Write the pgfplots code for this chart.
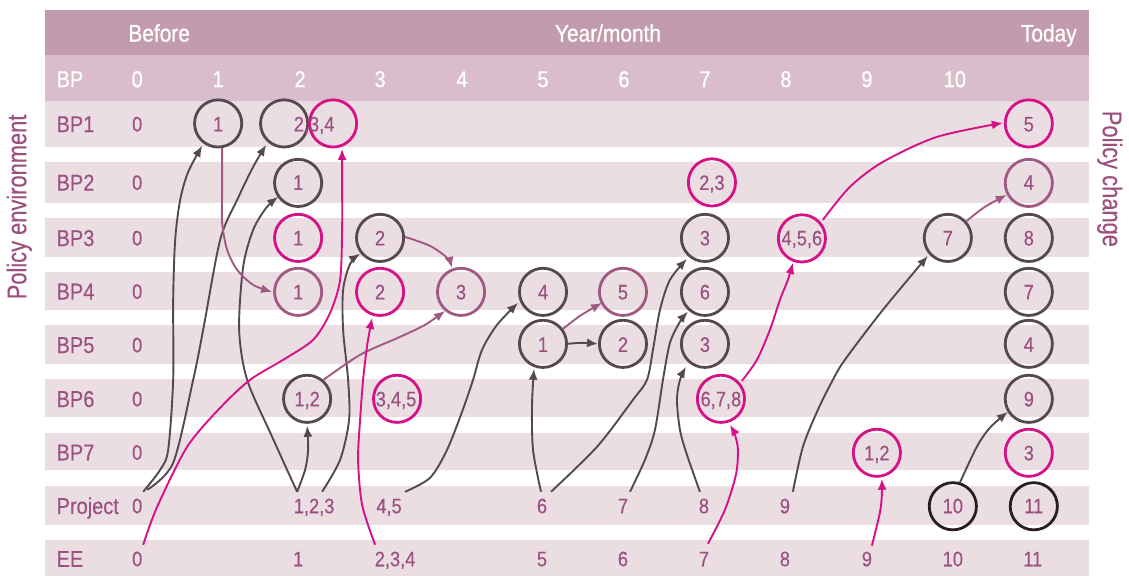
\documentclass[border=0pt]{standalone}
\usepackage{fontspec}
\setmainfont{Liberation Sans}[FakeStretch=0.87, FakeBold=0.25]
\newfontfamily\hdrfont{Liberation Sans}[FakeStretch=0.87, FakeBold=0.7]
\newfontfamily\sidefont{Liberation Sans}[FakeStretch=0.81, FakeBold=0.35]
\usepackage{pgfplots}
\pgfplotsset{compat=1.18}
\usetikzlibrary{arrows.meta}
\definecolor{hdrA}{RGB}{194,155,172}
\definecolor{hdrB}{RGB}{217,189,202}
\definecolor{band}{RGB}{234,222,227}
\definecolor{txt}{RGB}{155,80,128}
\definecolor{dk}{RGB}{85,72,80}
\definecolor{mg}{RGB}{214,17,136}
\definecolor{mv}{RGB}{160,90,130}
\definecolor{bk}{RGB}{38,30,34}
\pgfplotsset{
  bandrow/.style={fill=#1, draw=none, mark=none, forget plot},
  circ/.style={only marks, mark=o, mark size=11.8pt, mark options={draw=#1, line width=1.4pt}},
  arr/.style={#1, line width=0.95pt, smooth, mark=none, -{Latex[length=5.5pt,width=4.5pt]}},
  lab/.style n args={4}{draw=none, mark=none, nodes near coords, point meta=explicit symbolic,
     every node near coord/.append style={inner sep=0pt, anchor=#1, yshift=#2, text=#3, font=#4}},
}
\begin{document}
\begin{tikzpicture}
\begin{axis}[width=564.5pt, height=288pt, scale only axis,
  xmin=0, xmax=1129, ymin=0, ymax=576, y dir=reverse,
  hide axis, clip=false]
\addplot[draw=none, mark=none] coordinates {(0,0) (1129,576)};
% table bands
\addplot[bandrow=hdrA] coordinates {(45,10) (1089,10) (1089,55) (45,55)};
\addplot[bandrow=hdrB] coordinates {(45,55) (1089,55) (1089,101) (45,101)};
\addplot[bandrow=band] coordinates {(45,101) (1089,101) (1089,146.7) (45,146.7)};
\addplot[bandrow=band] coordinates {(45,162) (1089,162) (1089,203.3) (45,203.3)};
\addplot[bandrow=band] coordinates {(45,218.3) (1089,218.3) (1089,256.7) (45,256.7)};
\addplot[bandrow=band] coordinates {(45,271.7) (1089,271.7) (1089,310) (45,310)};
\addplot[bandrow=band] coordinates {(45,325) (1089,325) (1089,364) (45,364)};
\addplot[bandrow=band] coordinates {(45,379) (1089,379) (1089,417.3) (45,417.3)};
\addplot[bandrow=band] coordinates {(45,432.7) (1089,432.7) (1089,470.7) (45,470.7)};
\addplot[bandrow=band] coordinates {(45,486.7) (1089,486.7) (1089,525) (45,525)};
\addplot[bandrow=band] coordinates {(45,540) (1089,540) (1089,576) (45,576)};
% dark arrows
\addplot[arr=dk] coordinates {(143,492) (160,470) (168,450) (173,380) (173,300) (175,240) (180,200) (188,172) (202,146)};
\addplot[arr=dk] coordinates {(147,490) (173,463) (193,380) (203,330) (220,240) (237,200) (253,167) (266,145)};
\addplot[arr=dk] coordinates {(297,492) (272,437) (247,380) (239,330) (243,267) (253,230) (266,208) (278,197)};
\addplot[arr=dk] coordinates {(297,492) (305,470) (308,450) (307,426)};
\addplot[arr=dk] coordinates {(322,492) (340,460) (349,420) (348,380) (343,330) (343,290) (350,264) (360,254)};
\addplot[arr=dk] coordinates {(405,492) (430,478) (447,450) (462,412) (473,380) (482,350) (497,325) (518,303)};
\addplot[arr=dk] coordinates {(541,492) (533,450) (532,405) (534,369)};
\addplot[arr=dk] coordinates {(551,492) (597,447) (633,400) (647,380) (653,350) (660,310) (670,280) (687,259)};
\addplot[arr=dk] coordinates {(630,492) (645,460) (655,430) (663,380) (670,343) (680,322) (688,312)};
\addplot[arr=dk] coordinates {(700,492) (687,455) (680,430) (677,400) (680,380) (686,367)};
\addplot[arr=dk] coordinates {(793,492) (803,447) (818,410) (833,380) (845,360) (883,310) (928,256)};
\addplot[arr=dk] coordinates {(960,483) (977,447) (990,428) (1008,412)};
\addplot[arr=dk] coordinates {(567,344) (582,343) (598,344)};
% mauve arrows
\addplot[arr=mv] coordinates {(222,148) (222,190) (222,223) (227,250) (237,270) (253,285) (272,292)};
\addplot[arr=mv] coordinates {(322,381) (360,355) (400,337) (425,325) (445,311)};
\addplot[arr=mv] coordinates {(405,237) (430,246) (447,258) (452,268)};
\addplot[arr=mv] coordinates {(563,329) (580,316) (602,303)};
\addplot[arr=mv] coordinates {(967,221) (985,207) (1007,195)};
% magenta arrows
\addplot[arr=mg] coordinates {(143,545) (157,507) (187,447) (220,408) (250,380) (283,360) (313,340) (330,313) (340,280) (342,230) (342,180) (342,149)};
\addplot[arr=mg] coordinates {(375,545) (362,505) (358,460) (360,420) (363,380) (367,346) (372,318)};
\addplot[arr=mg] coordinates {(708,544) (725,510) (736,475) (738,450) (735,435) (730,425)};
\addplot[arr=mg] coordinates {(742,381) (757,360) (770,330) (780,300) (788,280) (793,263)};
\addplot[arr=mg] coordinates {(823,220) (850,187) (883,162) (937,137) (1003,123)};
\addplot[arr=mg] coordinates {(872,546) (880,513) (882,495) (882,479)};
% circles
\addplot[circ=dk] coordinates {(218,123.5) (284,123.5) (298,183) (380,238) (705,238) (948,238) (1029,238)
  (543,292) (705,292) (1029,292) (543,344) (623,344) (705,344) (1029,344) (307,399) (1029,399)};
\addplot[circ=mg] coordinates {(333,123.5) (1029,123.5) (712,182.5) (298,238) (802,238.5) (380,292)
  (397,399) (721,399) (877,453) (1029,453)};
\addplot[circ=mv] coordinates {(1029,183) (298,292) (461,292) (623,292)};
\addplot[circ=bk] coordinates {(953,506.5) (1034,506.5)};
% header texts
\addplot[lab={base}{-4.3pt}{white}{\hdrfont\fontsize{12}{14}\selectfont}] table[meta=t] {
x y t
159 33 Before
608 33 Year/month
1049 33 Today
};
\addplot[lab={base}{-4.1pt}{white}{\hdrfont\fontsize{11.5}{13}\selectfont}] table[meta=t] {
x y t
137 79 0
218 79 1
300 79 2
380 79 3
462 79 4
543 79 5
624 79 6
705 79 7
786 79 8
867 79 9
955 79 10
};
\addplot[lab={base west}{-4.1pt}{white}{\hdrfont\fontsize{11.5}{13}\selectfont}] table[meta=t] {
x y t
56 79 BP
};
% row labels
\addplot[lab={base west}{-4.1pt}{txt}{\fontsize{11.5}{13}\selectfont}] table[meta=t] {
x y t
56 124 BP1
56 182.5 BP2
56 238 BP3
56 291.5 BP4
56 345 BP5
56 399 BP6
56 452.5 BP7
56 506 Project
56 559 EE
};
% numbers
\addplot[lab={base}{-3.76pt}{txt}{\fontsize{10.5}{12}\selectfont}] table[meta=t] {
x y t
137 124 0
218 124 1
314 124 2,3,4
1029 124 5
137 182.5 0
298 182.5 1
712 182.5 2,3
1029 182.5 4
137 238 0
298 238 1
380 238 2
705 238 3
802 238 4,5,6
948 238 7
1029 238 8
137 291.5 0
298 292 1
380 292 2
461 292 3
543 292 4
623 292 5
705 292 6
1029 292 7
137 345 0
543 344.5 1
623 344.5 2
705 344.5 3
1029 344.5 4
137 399 0
307 399 1,2
396 399 3,4,5
721 399 6,7,8
1029 399 9
137 452.5 0
877 453 1,2
1029 453 3
137 506 0
314 506 1,2,3
389 506 4,5
542 506 6
623 506 7
704 506 8
785 506 9
953 506 10
1034 506 11
137 559 0
298 559 1
395 559 2,3,4
542 559 5
623 559 6
704 559 7
785 559 8
867 559 9
953 559 10
1033 559 11
};
\node[rotate=90, text=txt, font=\sidefont\fontsize{13.5}{15}\selectfont] at (axis cs:19,207) {Policy environment};
\node[rotate=-90, text=txt, font=\sidefont\fontsize{13.5}{15}\selectfont] at (axis cs:1110,179) {Policy change};
\end{axis}
\end{tikzpicture}
\end{document}
